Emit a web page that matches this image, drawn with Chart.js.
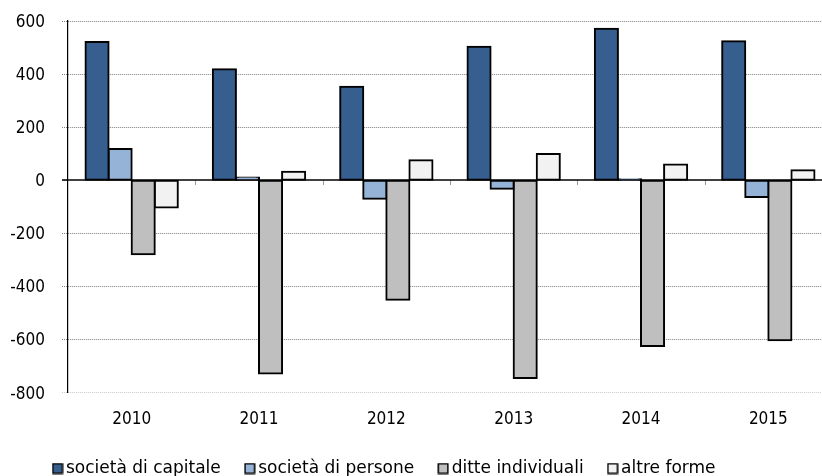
<!DOCTYPE html>
<html>
<head>
<meta charset="utf-8">
<script src="https://cdn.jsdelivr.net/npm/chart.js@4/dist/chart.umd.min.js"></script>
<style>
  html, body { margin: 0; padding: 0; background: #fff; overflow: hidden; }
  #wrap { position: relative; width: 832px; height: 476px; }
</style>
</head>
<body>
<div id="wrap"><canvas id="c"></canvas></div>
<script>
// Saldo tra iscrizioni e cessazioni di imprese per forma giuridica
const years = ['2010', '2011', '2012', '2013', '2014', '2015'];
const societaCapitale = [521, 418, 352, 503, 571, 524];
const societaPersone  = [118, 10, -70, -32, 4, -63];
const ditteIndividuali = [-279, -728, -450, -745, -624, -603];
const altreForme      = [-103, 32, 75, 99, 59, 38];
const yTicks = [600, 400, 200, 0, -200, -400, -600, -800];

const AXIS_FONT = "'DejaVu Sans Condensed', 'DejaVu Sans', sans-serif";
const LEGEND_FONT = "'DejaVu Sans', sans-serif";

// small square swatch used as legend marker
function swatch(fill) {
  const c = document.createElement('canvas');
  c.width = 12; c.height = 12;
  const g = c.getContext('2d');
  g.fillStyle = '#000';
  g.fillRect(0.5, 0.5, 11, 11);
  g.fillStyle = fill;
  g.fillRect(2, 2, 8, 8);
  return c;
}

// zero line, small category ticks on it, and legend offset
const zeroLine = {
  id: 'zeroLine',
  afterLayout(chart) {
    const lg = chart.legend;
    if (lg) { lg.left -= 29.5; lg.right -= 29.5; }
  },
  afterDatasetsDraw(chart) {
    const { ctx, chartArea, scales } = chart;
    const y0 = Math.round(scales.y.getPixelForValue(0));
    ctx.save();
    ctx.strokeStyle = '#9a9a9a';
    ctx.lineWidth = 1;
    const n = chart.data.labels.length;
    for (let i = 0; i < n - 1; i++) {
      const xb = Math.round((scales.x.getPixelForValue(i) + scales.x.getPixelForValue(i + 1)) / 2) + 0.5;
      ctx.beginPath();
      ctx.moveTo(xb, y0);
      ctx.lineTo(xb, y0 + 5);
      ctx.stroke();
    }
    ctx.strokeStyle = '#000';
    ctx.lineWidth = 1.5;
    ctx.beginPath();
    ctx.moveTo(chartArea.left - 6, y0);
    ctx.lineTo(chartArea.right, y0);
    ctx.stroke();
    ctx.restore();
  }
};

const common = { borderColor: '#000', borderWidth: 2, inflateAmount: 1, borderSkipped: false,
                 categoryPercentage: 0.725, barPercentage: 1.0 };

new Chart(document.getElementById('c'), {
  type: 'bar',
  data: {
    labels: years,
    datasets: [
      { label: 'società di capitale', data: societaCapitale, backgroundColor: '#365E8F', ...common },
      { label: 'società di persone', data: societaPersone, backgroundColor: '#95B3D7', ...common },
      { label: 'ditte individuali', data: ditteIndividuali, backgroundColor: '#BFBFBF', ...common },
      { label: 'altre forme', data: altreForme, backgroundColor: '#F2F2F2', ...common }
    ]
  },
  options: {
    responsive: true,
    maintainAspectRatio: false,
    animation: false,
    layout: { padding: { left: 0, right: 0, top: 21, bottom: -11 } },
    plugins: {
      tooltip: { enabled: false },
      legend: {
        position: 'bottom',
        align: 'center',
        labels: {
          font: { family: LEGEND_FONT, size: 17 },
          color: '#000',
          usePointStyle: true,
          pointStyleWidth: 0.01,
          boxHeight: 11,
          padding: 29,
          generateLabels(chart) {
            return chart.data.datasets.map((ds, i) => ({
              text: ds.label,
              fillStyle: ds.backgroundColor,
              strokeStyle: '#000',
              lineWidth: 0,
              pointStyle: swatch(ds.backgroundColor),
              hidden: !chart.isDatasetVisible(i),
              datasetIndex: i,
              fontColor: '#000'
            }));
          }
        }
      }
    },
    scales: {
      x: {
        grid: { display: false, drawTicks: false },
        border: { display: false },
        afterFit(s) { s.height -= 16; s.paddingTop = 0; s.paddingBottom = 0; },
        ticks: { font: { family: AXIS_FONT, size: 17 }, color: '#000', padding: 17 }
      },
      y: {
        min: -800, max: 600,
        afterFit(s) { s.width = 68; s.paddingTop = 0; s.paddingBottom = 0; },
        afterBuildTicks(s) { s.ticks = yTicks.map(v => ({ value: v })); },
        grid: {
          color: c => (c.tick && c.tick.value === 0) ? 'rgba(0,0,0,0)' :
                      (c.tick && c.tick.value === -800 ? '#c8c8c8' : '#7f7f7f'),
          tickColor: c => (c.tick && c.tick.value === -800 ? '#c8c8c8' : '#7f7f7f'),
          tickLength: 6,
          tickBorderDash: [1, 1],
          lineWidth: 1
        },
        border: { display: true, color: '#000', width: 1.2, dash: [1, 1] },
        ticks: { font: { family: AXIS_FONT, size: 17 }, color: '#000', padding: 17, labelOffset: 1.5 }
      }
    }
  },
  plugins: [zeroLine]
});
</script>
</body>
</html>
